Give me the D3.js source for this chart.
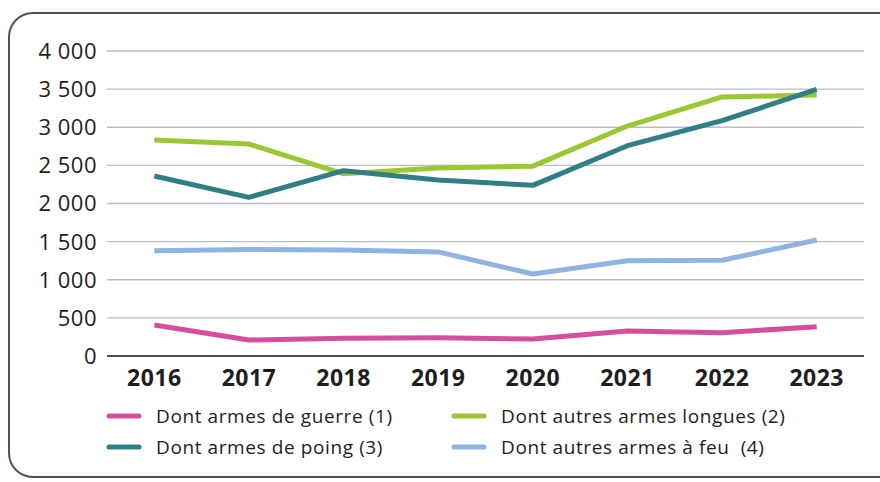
<!DOCTYPE html>
<html>
<head>
<meta charset="utf-8">
<script src="https://cdn.jsdelivr.net/npm/d3@7"></script>
<style>
  body { margin: 0; background: #fff; }
  text { font-family: "Open Sans", sans-serif; fill: #1e1e1e; }
</style>
</head>
<body>
<script>
// data
var years = [2016, 2017, 2018, 2019, 2020, 2021, 2022, 2023];
var armesGuerre = [407, 210, 232, 238, 223, 328, 306, 385];
var armesLongues = [2833, 2780, 2390, 2466, 2490, 3016, 3397, 3423];
var armesPoing = [2361, 2081, 2430, 2308, 2238, 2758, 3086, 3497];
var armesFeu = [1381, 1398, 1390, 1365, 1075, 1250, 1255, 1521];
var yTicks = [0, 500, 1000, 1500, 2000, 2500, 3000, 3500, 4000];

var series = [
  { name: "Dont armes de guerre (1)", values: armesGuerre, color: "#d64f9c" },
  { name: "Dont autres armes longues (2)", values: armesLongues, color: "#9bc733" },
  { name: "Dont armes de poing (3)", values: armesPoing, color: "#2f7f84" },
  { name: "Dont autres armes \u00e0 feu\u00a0 (4)", values: armesFeu, color: "#8fb4e3" }
];

var width = 880, height = 482;
var svg = d3.select("body").append("svg")
    .attr("width", width)
    .attr("height", height);

// rounded frame
svg.append("rect")
    .attr("x", 9).attr("y", 13)
    .attr("width", 900).attr("height", 464)
    .attr("rx", 24).attr("ry", 24)
    .attr("fill", "none")
    .attr("stroke", "#4b5263")
    .attr("stroke-width", 2);

var x = d3.scalePoint().domain(years).range([107, 864]).padding(0.5);
var y = d3.scaleLinear().domain([0, 4000]).range([356, 51]);

// grid
svg.append("g").selectAll("line")
    .data(yTicks.slice(1))
    .join("line")
    .attr("x1", 107).attr("x2", 864)
    .attr("y1", function(d) { return y(d); })
    .attr("y2", function(d) { return y(d); })
    .attr("stroke", "#b9bdc7")
    .attr("stroke-width", 1.3);

// y labels
svg.append("g").selectAll("text")
    .data(yTicks)
    .join("text")
    .attr("x", 97)
    .attr("y", function(d) { return y(d); })
    .attr("dy", "0.36em")
    .attr("text-anchor", "end")
    .style("font-size", "22px")
    .style("letter-spacing", "0.5px")
    .text(function(d) { return d3.format(",")(d).replace(",", " "); });

// x axis line
svg.append("line")
    .attr("x1", 107).attr("x2", 864)
    .attr("y1", y(0)).attr("y2", y(0))
    .attr("stroke", "#474c58")
    .attr("stroke-width", 2);

// x labels
svg.append("g").selectAll("text")
    .data(years)
    .join("text")
    .attr("x", function(d) { return x(d); })
    .attr("y", 386)
    .attr("text-anchor", "middle")
    .style("font-size", "23px")
    .style("font-weight", "bold")
    .style("letter-spacing", "0.5px")
    .text(function(d) { return d; });

// lines
var line = d3.line()
    .x(function(d, i) { return x(years[i]); })
    .y(function(d) { return y(d); });

svg.append("g").selectAll("path")
    .data(series)
    .join("path")
    .attr("d", function(d) { return line(d.values); })
    .attr("fill", "none")
    .attr("stroke", function(d) { return d.color; })
    .attr("stroke-width", 5)
    .attr("stroke-linejoin", "round");

// legend: two columns, two rows
var legPos = [[107, 416], [452, 416], [107, 447], [452, 447]];
var leg = svg.append("g").selectAll("g")
    .data(series)
    .join("g")
    .attr("transform", function(d, i) { return "translate(" + legPos[i][0] + "," + legPos[i][1] + ")"; });

leg.append("line")
    .attr("x1", 2).attr("x2", 32)
    .attr("stroke", function(d) { return d.color; })
    .attr("stroke-width", 5)
    .attr("stroke-linecap", "round");

leg.append("text")
    .attr("x", 49)
    .attr("dy", "0.36em")
    .style("font-size", "19px")
    .style("letter-spacing", "0.6px")
    .text(function(d) { return d.name; });
</script>
</body>
</html>
